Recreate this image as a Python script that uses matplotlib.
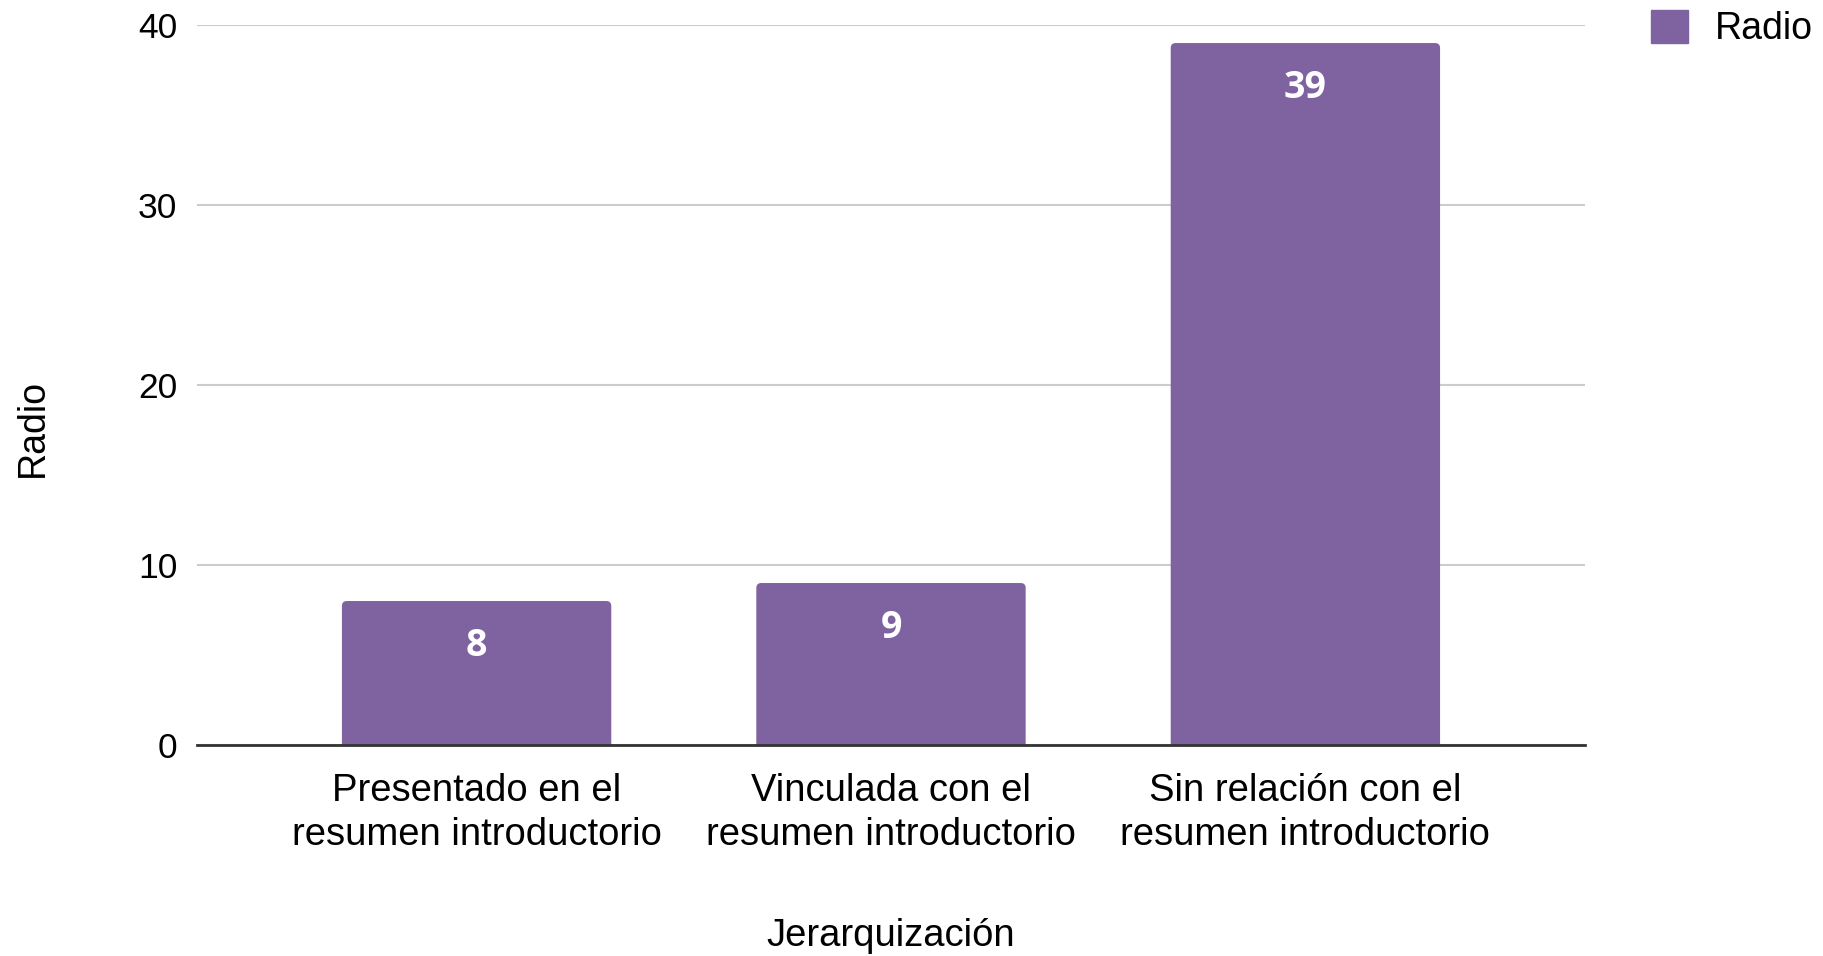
import matplotlib
matplotlib.use("Agg")
import matplotlib.pyplot as plt
from matplotlib.patches import Patch, FancyBboxPatch

categories = [
    "Presentado en el\nresumen introductorio",
    "Vinculada con el\nresumen introductorio",
    "Sin relación con el\nresumen introductorio",
]
values = [8, 9, 39]
yticks = [0, 10, 20, 30, 40]
series_name = "Radio"

purple = "#7f63a0"

plt.rcParams["font.family"] = ["Liberation Sans", "DejaVu Sans"]

fig = plt.figure(figsize=(18.23, 9.56), dpi=100)
ax = fig.add_axes([0.108, 0.2207, 0.7615, 0.7531])

x = list(range(len(categories)))
bars = ax.bar(x, values, width=0.65, color=purple, zorder=3)

# swap each bar for a box with rounded top corners; the box starts below
# zero so its lower corners get clipped away by the axes
for b in bars:
    x0, w, h = b.get_x(), b.get_width(), b.get_height()
    b.set_visible(False)
    ax.add_patch(FancyBboxPatch((x0, -1), w, h + 1,
                                boxstyle="round,pad=0,rounding_size=0.012",
                                mutation_aspect=23, color=purple, zorder=3,
                                linewidth=0))

for b, v in zip(bars, values):
    ax.annotate(str(v), (b.get_x() + b.get_width() / 2, v),
                xytext=(0, -32.5), textcoords="offset points",
                ha="center", va="center", color="white",
                fontsize=27, fontweight="bold", family=["Open Sans", "DejaVu Sans"])

ax.set_xlim(-0.675, 2.675)
ax.set_ylim(0, 40)
ax.set_yticks(yticks)
ax.set_xticks(x)
ax.set_xticklabels(categories, fontsize=27.5, linespacing=1.28)
ax.tick_params(axis="y", length=0, pad=14, labelsize=25.5)
ax.tick_params(axis="x", length=0, pad=20)

ax.grid(axis="y", color="#cccccc", linewidth=1.5, zorder=0)
for s in ["top", "right", "left"]:
    ax.spines[s].set_visible(False)
ax.spines["bottom"].set_color("#333333")
ax.spines["bottom"].set_linewidth(2)
ax.spines["bottom"].set_zorder(4)

fig.text(28 / 1568, 1 - 368 / 822, "Radio", rotation=90, fontsize=27,
         ha="center", va="center")
ax.set_xlabel("Jerarquización", fontsize=27.5, labelpad=47)

ax.legend(handles=[Patch(color=purple, label=series_name)],
          loc="upper left", bbox_to_anchor=(1.023, 1.068), frameon=False,
          fontsize=27, handlelength=1.0, handleheight=1.0, handletextpad=0.7)

fig.savefig("out.png", dpi=100)
